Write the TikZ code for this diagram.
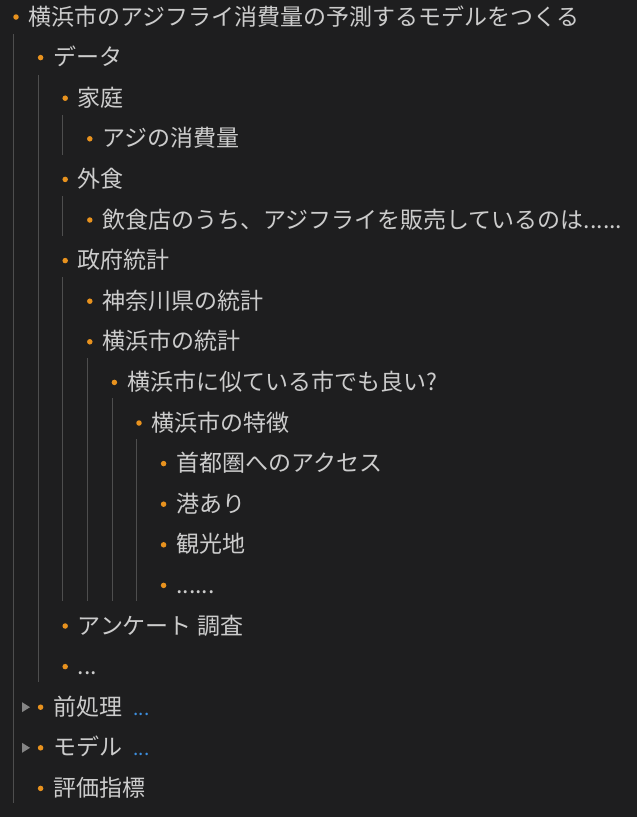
\documentclass[tikz,border=0pt]{standalone}
\usepackage{fontspec}
\newfontfamily\jpfont{Noto Sans CJK JP}
\definecolor{bgc}{HTML}{1E1E1F}
\definecolor{txtc}{HTML}{CCCCCC}
\definecolor{bulc}{HTML}{E8921E}
\definecolor{guidec}{HTML}{4E4E4E}
\definecolor{triac}{HTML}{858585}
\definecolor{morec}{HTML}{3C8FE0}
\tikzset{
  itemtext/.style={anchor=base west, inner sep=0pt, text=txtc, font=\jpfont\fontsize{23}{26}\selectfont},
  bulletdot/.style={circle, fill=bulc, inner sep=0pt, minimum size=5.5pt},
  guide/.style={draw=guidec, line width=0.9pt},
  foldtri/.style={fill=triac},
  moredots/.style={anchor=base west, inner sep=0pt, text=morec, font=\jpfont\fontsize{19}{20}\selectfont}
}
\begin{document}
\begin{tikzpicture}[x=1pt,y=-1pt]
\fill[bgc] (0,0) rectangle (637,817);
\useasboundingbox (0,0) rectangle (637,817);
% items: name, row, level, text
\foreach \n/\r/\l/\t in {
 0/0/0/{横浜市のアジフライ消費量の予測するモデルをつくる},
 1/1/1/{データ},
 2/2/2/{家庭},
 3/3/3/{アジの消費量},
 4/4/2/{外食},
 5/5/3/{飲食店のうち、アジフライを販売しているのは......},
 6/6/2/{政府統計},
 7/7/3/{神奈川県の統計},
 8/8/3/{横浜市の統計},
 9/9/4/{横浜市に似ている市でも良い?},
 10/10/5/{横浜市の特徴},
 11/11/6/{首都圏へのアクセス},
 12/12/6/{港あり},
 13/13/6/{観光地},
 14/14/6/{......},
 15/15/2/{アンケート 調査},
 16/16/2/{...},
 17/17/1/{前処理},
 18/18/1/{モデル},
 19/19/1/{評価指標}}{
  \node[bulletdot] (b\n) at ({16+24.6*\l},{17+40.6*\r}) {};
  \node[itemtext] (n\n) at ({28.5+24.6*\l},{17+40.6*\r+8}) {\t};
}
% guide lines
\coordinate (g0s) at (13,34);   \coordinate (g0e) at (13,803);
\coordinate (g1s) at (38,75);   \coordinate (g1e) at (38,682);
\coordinate (g2s) at (62,115);  \coordinate (g2e) at (62,155);
\coordinate (g4s) at (62,196);  \coordinate (g4e) at (62,236);
\coordinate (g6s) at (62,277);  \coordinate (g6e) at (62,601);
\coordinate (g8s) at (87,358);  \coordinate (g8e) at (87,601);
\coordinate (g9s) at (112,398); \coordinate (g9e) at (112,601);
\coordinate (g10s) at (136,439); \coordinate (g10e) at (136,601);
\foreach \g in {0,1,2,4,6,8,9,10}{\draw[guide] (g\g s) -- (g\g e);}
% fold triangles
\fill[foldtri] (22,{17+40.6*17-5}) -- (30,{17+40.6*17}) -- (22,{17+40.6*17+5}) -- cycle;
\fill[foldtri] (22,{17+40.6*18-5}) -- (30,{17+40.6*18}) -- (22,{17+40.6*18+5}) -- cycle;
% collapsed markers
\node[moredots] (m17) at ([xshift=11pt]n17.base east) {...};
\node[moredots] (m18) at ([xshift=11pt]n18.base east) {...};
\end{tikzpicture}
\end{document}
